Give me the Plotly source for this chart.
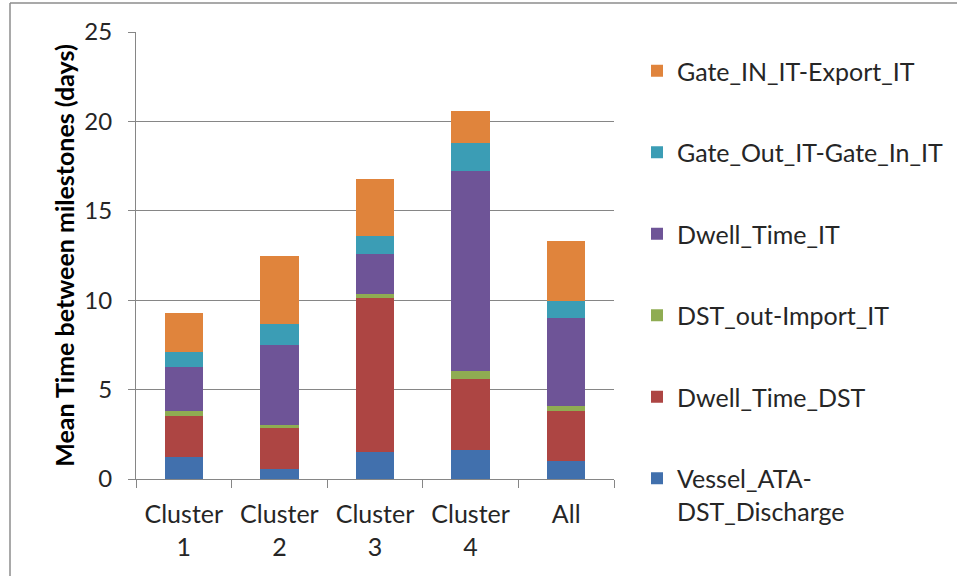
import plotly.graph_objects as go

categories = ["Cluster<br>1", "Cluster<br>2", "Cluster<br>3", "Cluster<br>4", "All"]

series_names = [
    "Vessel_ATA-<br>DST_Discharge",
    "Dwell_Time_DST",
    "DST_out-Import_IT",
    "Dwell_Time_IT",
    "Gate_Out_IT-Gate_In_IT",
    "Gate_IN_IT-Export_IT",
]

vessel_ata_dst_discharge = [1.21, 0.56, 1.51, 1.64, 1.03]
dwell_time_dst = [2.33, 2.29, 8.59, 3.95, 2.79]
dst_out_import_it = [0.28, 0.19, 0.27, 0.43, 0.28]
dwell_time_it = [2.43, 4.45, 2.23, 11.22, 4.90]
gate_out_gate_in_it = [0.84, 1.20, 0.97, 1.53, 0.97]
gate_in_export_it = [2.20, 3.80, 3.21, 1.79, 3.34]

colors = ["#4170ad", "#ad4543", "#8fac52", "#6e5497", "#3b9db5", "#e0843c"]

series_values = [
    vessel_ata_dst_discharge,
    dwell_time_dst,
    dst_out_import_it,
    dwell_time_it,
    gate_out_gate_in_it,
    gate_in_export_it,
]

FONT = "Lato"
TXT = "#262626"

fig = go.Figure()
n = len(series_names)
for i, (name, vals, col) in enumerate(zip(series_names, series_values, colors)):
    fig.add_trace(go.Bar(
        x=categories, y=vals, name=name, marker=dict(color=col, line=dict(width=0)),
        legendgroup=f"g{i}", legendrank=(n - i) * 10,
    ))

W, H = 957, 576
L, R, T, B = 136, 614, 32, 479

fig.update_layout(
    width=W, height=H,
    barmode="stack", bargap=0.6,
    margin=dict(l=L, r=W - R, t=T, b=H - B, pad=0, autoexpand=False),
    paper_bgcolor="white", plot_bgcolor="white",
    font=dict(family=FONT, size=25, color=TXT),
    showlegend=True,
    legend=dict(
        x=(637 - L) / (R - L), xanchor="left",
        y=(B - 48) / (B - T), yanchor="top",
        traceorder="grouped", tracegroupgap=46, maxheight=560, valign="top",
        font=dict(family=FONT, size=25, color=TXT),
        bgcolor="rgba(0,0,0,0)", borderwidth=0,
    ),
    xaxis=dict(
        showline=True, linecolor="#868686", linewidth=1,
        ticks="outside", ticklen=8, tickcolor="#868686", tickson="boundaries",
        showgrid=False, tickfont=dict(family=FONT, size=25, color=TXT),
        ticklabelstandoff=13,
    ),
    yaxis=dict(
        range=[0, 25], dtick=5, tick0=0,
        showline=True, linecolor="#868686", linewidth=1,
        ticks="outside", ticklen=7, tickcolor="#868686",
        showgrid=True, gridcolor="#868686", gridwidth=1,
        zeroline=False, ticklabelstandoff=11,
        tickfont=dict(family=FONT, size=24, color=TXT),
        title=dict(text="<b>Mean Time between milestones (days)</b>",
                   font=dict(family=FONT, size=25, color="#000000"), standoff=2),
    ),
    shapes=[
        dict(type="line", xref="paper", yref="paper",
             x0=(10 - L) / (R - L), x1=(957 - L) / (R - L),
             y0=(B - 3) / (B - T), y1=(B - 3) / (B - T),
             line=dict(color="#8c8c8c", width=1.5)),
        dict(type="line", xref="paper", yref="paper",
             x0=(10 - L) / (R - L), x1=(10 - L) / (R - L),
             y0=(B - 3) / (B - T), y1=(B - 576) / (B - T),
             line=dict(color="#8c8c8c", width=1.5)),
    ],
)

fig.write_html("out.html")
